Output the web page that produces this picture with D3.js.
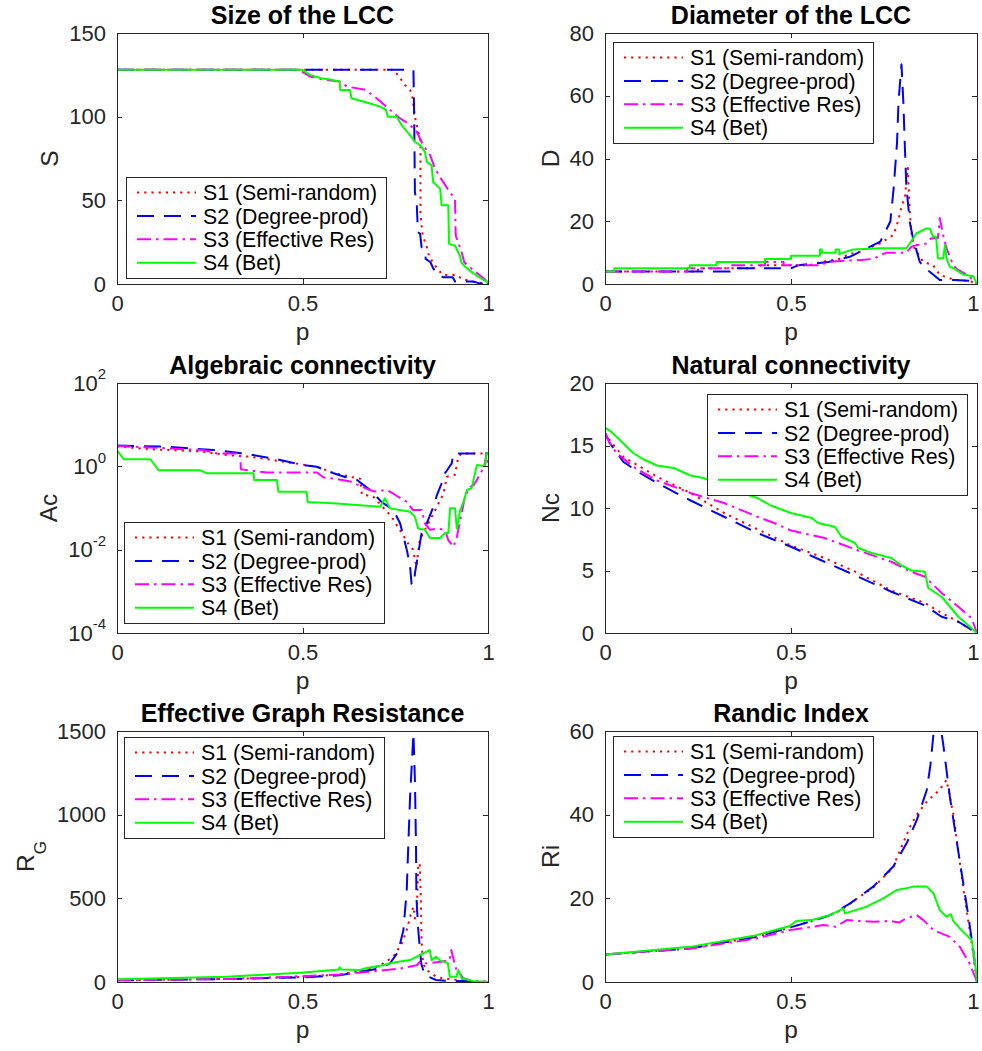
<!DOCTYPE html>
<html>
<head>
<meta charset="utf-8">
<script src="https://cdn.jsdelivr.net/npm/d3@7"></script>
<style>
body { margin: 0; background: #fff; }
text { font-family: "Liberation Sans", Arial, Helvetica, sans-serif; }
</style>
</head>
<body>
<div class="container"></div>
<script>
const width = 982, height = 1051;

// legend entries and line styles
const seriesNames = ["S1 (Semi-random)", "S2 (Degree-prod)", "S3 (Effective Res)", "S4 (Bet)"];
const seriesColors = ["#ff0000", "#0000ff", "#ff00ff", "#00ff00"];
const seriesDash = ["2.2,5", "17,10", "14,5,2.5,5", null];

const xTicks = [0, 0.5, 1];

// Size of the LCC
const lccS1 = [[0,128],[0.745,128],[0.76,124],[0.776,119],[0.79,116],[0.796,112],[0.803,100],[0.812,91],[0.818,86],[0.818,43],[0.821,35],[0.824,29],[0.835,22],[0.842,16],[0.852,13],[0.866,8.4],[0.879,5.4],[0.915,5.4],[0.93,3],[0.96,1.4],[1,0]];
const lccS2 = [[0,128],[0.799,128],[0.801,100],[0.803,55],[0.808,48],[0.811,31],[0.817,30],[0.821,22],[0.83,20],[0.832,15],[0.845,13],[0.852,9.5],[0.865,5.4],[0.88,4],[0.905,4],[0.911,1.5],[0.96,1.5],[0.975,0.5],[1,0]];
const lccS3 = [[0,128],[0.49,128],[0.52,124],[0.56,122],[0.6,121],[0.62,118],[0.67,116],[0.7,111],[0.731,105],[0.763,99],[0.785,96],[0.808,91],[0.825,83],[0.844,77],[0.857,69],[0.879,61],[0.897,55],[0.911,51],[0.913,29],[0.929,19],[0.936,13],[0.96,8.4],[0.987,3.6],[1,1]];
const lccS4 = [[0,128],[0.5,128],[0.52,125],[0.55,123],[0.58,122],[0.6,121],[0.602,116],[0.628,116],[0.632,111],[0.68,108],[0.71,106],[0.725,104],[0.73,100],[0.754,100],[0.767,95],[0.79,89],[0.803,85],[0.817,83],[0.83,79],[0.835,73],[0.848,71],[0.852,61],[0.871,57],[0.875,47],[0.893,47],[0.895,24],[0.911,23],[0.924,17],[0.929,12.5],[0.943,9.5],[0.96,6.5],[0.978,3.8],[1,1]];

// Diameter of the LCC
const diaS1 = [[0,4],[0.25,4],[0.25,5],[0.4,5],[0.42,6],[0.55,6],[0.58,7],[0.63,8],[0.659,9.6],[0.686,10.3],[0.74,13],[0.775,15.6],[0.788,20],[0.797,24.7],[0.806,27.4],[0.814,37],[0.819,24],[0.823,16.7],[0.832,11.4],[0.855,7.1],[0.882,6],[0.9,2.9],[0.94,1.3],[0.98,1],[1,0]];
const diaS2 = [[0,4],[0.336,4],[0.336,5],[0.5,5],[0.52,6],[0.6,7],[0.659,8.7],[0.713,11.9],[0.74,13.5],[0.767,19.9],[0.776,30.6],[0.785,45],[0.789,58],[0.797,70],[0.802,58],[0.806,44],[0.81,31.5],[0.819,19.9],[0.828,14.6],[0.846,7.1],[0.859,5],[0.873,3.9],[0.9,1.3],[0.94,1.3],[0.98,1],[1,0]];
const diaS3 = [[0,4],[0.22,4],[0.22,5],[0.336,5],[0.336,6],[0.43,6],[0.43,7],[0.48,7],[0.48,6],[0.578,6],[0.6,7],[0.65,7.5],[0.68,7.6],[0.722,8],[0.74,9.2],[0.757,10],[0.81,10],[0.824,11.9],[0.837,12.4],[0.864,12.9],[0.877,14.6],[0.895,14.6],[0.9,21],[0.909,15.6],[0.918,11.4],[0.936,6],[0.945,4.8],[0.972,3],[0.99,1.3],[1,0]];
const diaS4 = [[0,4],[0.025,4],[0.025,5],[0.228,5],[0.228,6],[0.3,6],[0.3,7],[0.43,7],[0.43,8],[0.5,8],[0.5,9],[0.578,9],[0.578,11],[0.583,11],[0.583,10],[0.62,10],[0.62,11],[0.63,11],[0.63,9.5],[0.64,10],[0.667,11],[0.74,11.4],[0.81,11.4],[0.823,13.5],[0.837,16.1],[0.864,17.7],[0.873,17.7],[0.882,15.1],[0.89,15.1],[0.895,8.2],[0.909,8.2],[0.914,12.4],[0.918,8.2],[0.927,5.5],[0.94,4.8],[0.963,3],[0.99,2.5],[1,0]];

// Algebraic connectivity
const acS1 = [[0,3.0],[0.09,2.57],[0.225,2.29],[0.296,1.86],[0.36,1.7],[0.45,1.29],[0.539,0.98],[0.583,0.7],[0.629,0.56],[0.656,0.5],[0.66,0.21],[0.69,0.19],[0.74,0.062],[0.785,0.014],[0.798,0.01],[0.807,0.0039],[0.816,0.017],[0.83,0.03],[0.844,0.051],[0.862,0.107],[0.88,0.22],[0.889,0.56],[0.911,0.63],[0.92,1.7],[0.929,2.04],[1,2.04]];
const acS2 = [[0,3.16],[0.135,2.95],[0.26,2.45],[0.341,2.04],[0.431,1.48],[0.503,1.07],[0.538,0.98],[0.584,0.68],[0.628,0.51],[0.647,0.47],[0.682,0.27],[0.713,0.14],[0.745,0.089],[0.763,0.043],[0.781,0.01],[0.79,0.004],[0.794,0.0015],[0.801,0.0015],[0.803,0.0027],[0.812,0.0081],[0.821,0.025],[0.835,0.043],[0.853,0.107],[0.862,0.2],[0.875,0.39],[0.884,0.68],[0.902,1.17],[0.907,2.04],[1,2.04]];
const acS3 = [[0,3.09],[0.234,2.45],[0.27,2.04],[0.332,2.04],[0.334,0.85],[0.404,0.71],[0.539,0.71],[0.557,0.54],[0.584,0.51],[0.629,0.43],[0.682,0.27],[0.692,0.25],[0.727,0.27],[0.745,0.22],[0.781,0.14],[0.798,0.089],[0.821,0.089],[0.83,0.043],[0.844,0.03],[0.862,0.032],[0.884,0.03],[0.893,0.017],[0.907,0.0117],[0.916,0.02],[0.929,0.074],[0.938,0.19],[0.952,0.32],[0.961,0.35],[0.97,0.47],[0.99,1.0],[0.996,2.04],[1,1.0]];
const acS4 = [[0,2.45],[0.018,1.48],[0.09,1.48],[0.112,0.81],[0.224,0.81],[0.243,0.68],[0.368,0.68],[0.37,0.47],[0.431,0.47],[0.435,0.245],[0.511,0.245],[0.514,0.14],[0.583,0.13],[0.709,0.107],[0.722,0.17],[0.736,0.098],[0.79,0.081],[0.803,0.062],[0.812,0.032],[0.83,0.03],[0.844,0.019],[0.871,0.019],[0.884,0.025],[0.893,0.025],[0.898,0.098],[0.911,0.098],[0.916,0.032],[0.925,0.089],[0.934,0.14],[0.943,0.27],[0.956,0.3],[0.97,1.07],[0.992,1.0],[0.996,2.04],[1,2.04]];

// Natural connectivity
const ncS1 = [[0,16.0],[0.013,15.4],[0.049,14.1],[0.14,12.5],[0.23,11.2],[0.32,9.6],[0.41,8.3],[0.5,7.0],[0.59,6.0],[0.681,4.8],[0.77,3.4],[0.86,2.4],[0.905,1.6],[0.95,0.9],[1,0]];
const ncS2 = [[0,16.0],[0.013,15.2],[0.049,13.7],[0.094,12.8],[0.14,12.0],[0.23,10.6],[0.32,9.3],[0.41,8.0],[0.5,6.9],[0.59,5.7],[0.681,4.5],[0.77,3.3],[0.86,2.2],[0.905,1.3],[0.95,0.9],[1,0]];
const ncS3 = [[0,16.0],[0.013,15.2],[0.031,14.4],[0.076,13.3],[0.14,12.2],[0.23,11.2],[0.32,10.4],[0.41,9.3],[0.455,8.8],[0.5,8.2],[0.59,7.6],[0.681,6.6],[0.77,5.7],[0.815,5.0],[0.86,4.5],[0.905,3.2],[0.95,2.1],[0.985,1.2],[1,0]];
const ncS4 = [[0,16.4],[0.013,16.2],[0.031,15.7],[0.076,14.4],[0.103,13.9],[0.14,13.4],[0.185,13.2],[0.23,12.6],[0.265,12.4],[0.32,11.7],[0.41,10.8],[0.446,10.2],[0.5,9.6],[0.556,9.2],[0.573,8.8],[0.618,8.5],[0.636,7.7],[0.672,7.2],[0.681,6.8],[0.717,6.4],[0.77,6.0],[0.797,5.4],[0.824,5.0],[0.86,4.9],[0.869,3.6],[0.905,2.9],[0.95,1.3],[1,0]];

// Effective graph resistance
const rgS1 = [[0,10],[0.3,18],[0.5,30],[0.6,45],[0.691,82],[0.718,112],[0.745,151],[0.768,231],[0.781,311],[0.79,390],[0.799,450],[0.803,380],[0.808,420],[0.812,700],[0.816,709],[0.819,500],[0.821,240],[0.825,112],[0.834,72],[0.86,32],[0.878,22],[0.918,12],[1,0]];
const rgS2 = [[0,10],[0.3,18],[0.5,28],[0.6,40],[0.709,82],[0.736,112],[0.758,181],[0.772,311],[0.781,550],[0.785,808],[0.79,1107],[0.799,1486],[0.803,1207],[0.806,808],[0.807,510],[0.812,311],[0.816,211],[0.82,112],[0.829,42],[0.86,12],[0.9,6],[0.96,4],[1,0]];
const rgS3 = [[0,10],[0.3,18],[0.5,35],[0.6,45],[0.673,60],[0.763,80],[0.808,100],[0.817,122],[0.834,112],[0.878,122],[0.897,131],[0.901,191],[0.91,112],[0.915,72],[0.924,52],[0.933,22],[0.96,6],[1,0]];
const rgS4 = [[0,16],[0.298,32],[0.494,56],[0.583,72],[0.598,75],[0.6,88],[0.605,75],[0.655,72],[0.673,84],[0.718,100],[0.736,112],[0.763,122],[0.79,131],[0.816,161],[0.843,191],[0.848,131],[0.86,151],[0.87,131],[0.892,112],[0.897,32],[0.915,32],[0.92,72],[0.929,22],[0.96,6],[1,0]];

// Randic index
const riS1 = [[0,6.6],[0.228,8.0],[0.407,10.8],[0.497,13.0],[0.587,15.4],[0.632,17.0],[0.659,18.8],[0.721,22.6],[0.775,27.4],[0.784,29.6],[0.82,37.1],[0.838,40],[0.865,43.1],[0.9,46],[0.918,48.3],[0.936,40.3],[0.954,28.4],[0.972,17.2],[0.986,9.2],[1,0]];
const riS2 = [[0,6.6],[0.228,8.0],[0.407,10.8],[0.497,13.0],[0.587,15.4],[0.605,16.0],[0.659,18.8],[0.721,22.8],[0.775,27.6],[0.811,33.2],[0.838,38.7],[0.865,45.9],[0.875,52],[0.883,59.3],[0.905,59.3],[0.909,57],[0.927,44.3],[0.945,33.9],[0.963,23.6],[0.977,15.6],[0.99,7.6],[1,0]];
const riS3 = [[0,6.6],[0.228,8.0],[0.407,10.4],[0.497,12.4],[0.587,13.6],[0.62,13.2],[0.65,14.8],[0.677,14.6],[0.722,14.4],[0.766,14.6],[0.79,14.2],[0.81,15.2],[0.838,16.0],[0.856,14.8],[0.883,12.4],[0.927,10.8],[0.954,8.4],[0.98,4.4],[0.995,1.2],[1,0]];
const riS4 = [[0,6.6],[0.228,8.4],[0.407,11.2],[0.497,13.4],[0.515,14.6],[0.56,14.9],[0.605,16.0],[0.641,17.6],[0.645,16.4],[0.703,18.0],[0.748,20.0],[0.77,21.2],[0.784,22.0],[0.81,22.4],[0.829,22.8],[0.865,22.8],[0.883,21.2],[0.9,17.2],[0.918,15.6],[0.93,16.2],[0.936,14.6],[0.954,12.8],[0.972,11.2],[0.986,10.0],[0.995,4.5],[1,0]];

const panels = [
    {title: "Size of the LCC", ylab: "S", domain: [0, 150], ticks: [0, 50, 100, 150],
        series: [lccS1, lccS2, lccS3, lccS4], legend: [9, 144]},
    {title: "Diameter of the LCC", ylab: "D", domain: [0, 80], ticks: [0, 20, 40, 60, 80],
        series: [diaS1, diaS2, diaS3, diaS4], legend: [8, 9]},
    {title: "Algebraic connectivity", ylab: "Ac", domain: [1e-4, 1e2], ticks: [1e-4, 1e-2, 1, 1e2], log: true,
        series: [acS1, acS2, acS3, acS4], legend: [7, 139]},
    {title: "Natural connectivity", ylab: "Nc", domain: [0, 20], ticks: [0, 5, 10, 15, 20],
        series: [ncS1, ncS2, ncS3, ncS4], legend: [102, 11]},
    {title: "Effective Graph Resistance", ylab: "R", ysub: "G", domain: [0, 1500], ticks: [0, 500, 1000, 1500],
        series: [rgS1, rgS2, rgS3, rgS4], legend: [7, 6]},
    {title: "Randic Index", ylab: "Ri", domain: [0, 60], ticks: [0, 20, 40, 60],
        series: [riS1, riS2, riS3, riS4], legend: [8, 5]}
];

const cols = [[117, 488], [605, 977]];
const rows = [[33, 284], [383, 633], [731, 982]];
const axisColor = "#262626";

const svg = d3.select(".container")
    .append("svg")
    .attr("width", width)
    .attr("height", height);

panels.forEach((pn, i) => {
    const [left, right] = cols[i % 2];
    const [top, bottom] = rows[Math.floor(i / 2)];
    const w = right - left, h = bottom - top;

    const group = svg.append("g")
        .attr("transform", `translate(${left},${top})`);

    const x_scale = d3.scaleLinear().domain([0, 1]).range([0, w]);
    const y_scale = (pn.log ? d3.scaleLog() : d3.scaleLinear())
        .domain(pn.domain)
        .range([h, 0]);

    group.append("clipPath")
        .attr("id", "clip" + i)
        .append("rect")
        .attr("x", 0).attr("y", -1)
        .attr("width", w + 1).attr("height", h + 2);

    const line = d3.line()
        .x(d => x_scale(d[0]))
        .y(d => y_scale(d[1]));

    group.append("g")
        .attr("clip-path", `url(#clip${i})`)
        .selectAll("path")
        .data(pn.series)
        .join("path")
        .attr("fill", "none")
        .attr("stroke", (d, k) => seriesColors[k])
        .attr("stroke-width", 2)
        .attr("stroke-linejoin", "round")
        .attr("stroke-dasharray", (d, k) => seriesDash[k])
        .attr("d", line);

    // box and inward ticks on all four sides
    const x_axis_group = group.append("g")
        .attr("transform", `translate(0,${h})`)
        .call(d3.axisBottom(x_scale).tickValues(xTicks)
            .tickSizeInner(-5).tickSizeOuter(0).tickPadding(11)
            .tickFormat(d3.format("")));
    group.append("g")
        .call(d3.axisTop(x_scale).tickValues(xTicks)
            .tickSizeInner(-5).tickSizeOuter(0).tickFormat(""));

    const y_axis = d3.axisLeft(y_scale)
        .tickValues(pn.ticks)
        .tickSizeInner(-5).tickSizeOuter(0).tickPadding(11)
        .tickFormat(pn.log ? "" : d3.format("d"));
    const y_axis_group = group.append("g").call(y_axis);
    group.append("g")
        .attr("transform", `translate(${w},0)`)
        .call(d3.axisRight(y_scale).tickValues(pn.ticks)
            .tickSizeInner(-5).tickSizeOuter(0).tickFormat(""));

    if (pn.log) {
        y_axis_group.selectAll(".tick text").each(function(d) {
            const t = d3.select(this);
            t.text("10");
            t.append("tspan")
                .attr("dy", "-0.75em")
                .attr("font-size", 15)
                .text(Math.round(Math.log10(d)));
        });
    }

    group.selectAll(".domain").remove();
    group.selectAll(".tick line")
        .attr("stroke", axisColor)
        .attr("shape-rendering", "crispEdges");
    group.selectAll(".tick text")
        .attr("fill", axisColor)
        .attr("font-size", 22)
        .attr("font-family", "'Liberation Sans', Arial, sans-serif");

    // keep the last x tick label inside the page
    x_axis_group.selectAll(".tick text").each(function(d) {
        const b = this.getBBox();
        const over = left + x_scale(d) + b.x + b.width - (width - 3);
        if (over > 0) d3.select(this).attr("dx", -over);
    });

    group.append("rect")
        .attr("x", 0.5).attr("y", 0.5)
        .attr("width", w).attr("height", h)
        .attr("fill", "none")
        .attr("stroke", axisColor)
        .attr("shape-rendering", "crispEdges");

    // title and axis labels
    group.append("text")
        .attr("x", w / 2)
        .attr("y", -9)
        .attr("text-anchor", "middle")
        .attr("font-weight", "bold")
        .attr("font-size", 25)
        .attr("fill", "#000")
        .text(pn.title);

    group.append("text")
        .attr("x", w / 2)
        .attr("y", h + 56)
        .attr("text-anchor", "middle")
        .attr("font-size", 24.5)
        .attr("fill", axisColor)
        .text("p");

    const tickLeft = d3.min(y_axis_group.selectAll(".tick text").nodes(), n => n.getBBox().x);
    const labX = tickLeft - 11 - (pn.ysub ? 12 : 0);
    const ylab = group.append("text")
        .attr("transform", `translate(${labX},${h / 2}) rotate(-90)`)
        .attr("text-anchor", "middle")
        .attr("font-size", 24.5)
        .attr("fill", axisColor)
        .text(pn.ylab);
    if (pn.ysub) {
        ylab.append("tspan")
            .attr("dy", 12)
            .attr("font-size", 17)
            .text(pn.ysub);
    }

    // legend
    const legend = group.append("g")
        .attr("transform", `translate(${pn.legend[0]},${pn.legend[1]})`);
    legend.append("rect")
        .attr("x", 0.5).attr("y", 0.5)
        .attr("width", 260).attr("height", 101)
        .attr("fill", "#fff")
        .attr("stroke", axisColor)
        .attr("shape-rendering", "crispEdges");
    const item = legend.selectAll("g.item")
        .data(seriesNames)
        .join("g")
        .attr("class", "item")
        .attr("transform", (d, k) => `translate(0,${15.5 + k * 23.4})`);
    item.append("line")
        .attr("x1", 11).attr("x2", 70)
        .attr("stroke", (d, k) => seriesColors[k])
        .attr("stroke-width", 2)
        .attr("stroke-dasharray", (d, k) => seriesDash[k]);
    item.append("text")
        .attr("x", 77)
        .attr("dy", "0.36em")
        .attr("font-size", 21.3)
        .attr("fill", "#000")
        .text(d => d);
});
</script>
</body>
</html>
